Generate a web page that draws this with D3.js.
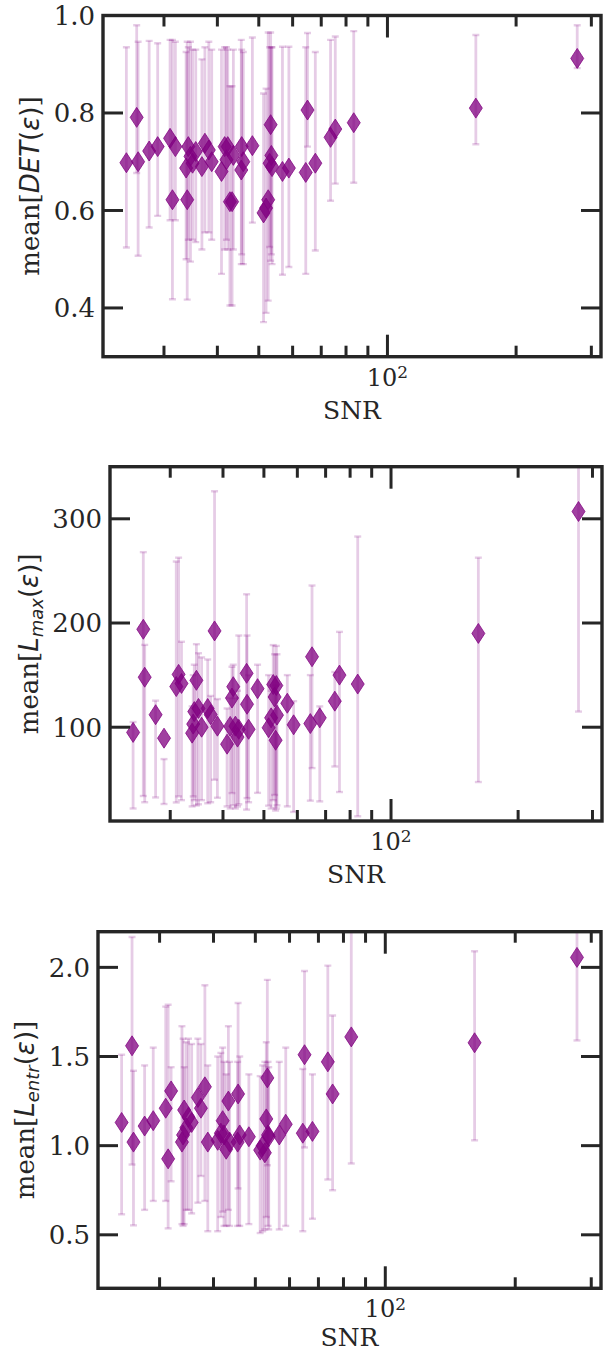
<!DOCTYPE html>
<html>
<head>
<meta charset="utf-8">
<script src="https://cdn.jsdelivr.net/npm/d3@7"></script>
<style>
  body { margin: 0; background: #fff; }
  svg text { fill: #262626; }
</style>
</head>
<body>
<div id="chart"></div>
<script>
// SNR of each event, shared by all three panels
var snr = [24.5, 25.9, 26.1, 27.7, 29.0, 31.0, 31.4, 31.9, 33.8, 34.0, 34.2, 34.6, 35.0, 35.6, 36.8, 37.4, 38.2, 38.8, 40.9, 41.6, 42.0, 42.3, 42.8, 43.3, 43.6, 45.5, 45.6, 46.0, 48.3, 51.3, 52.0, 52.6, 53.0, 53.3, 53.5, 53.7, 56.8, 58.8, 64.4, 65.0, 67.8, 73.6, 75.5, 83.4, 161, 278];

var detMean = [.698, .791, .700, .722, .731, .748, .622, .731, .687, .622, .731, .711, .697, .721, .690, .738, .724, .700, .680, .731, .704, .731, .618, .618, .713, .683, .731, .700, .733, .595, .605, .622, .697, .776, .713, .690, .680, .687, .678, .806, .697, .750, .767, .780, .810, .912];
var detLow = [.524, .677, .507, .565, .589, .580, .418, .580, .500, .417, .540, .495, .540, .535, .520, .555, .555, .540, .470, .520, .540, .520, .405, .405, .520, .490, .510, .490, .575, .371, .390, .415, .525, .497, .510, .490, .468, .484, .470, .731, .518, .620, .655, .657, .736, .892];
var detHigh = [.935, .980, .946, .948, .943, .950, .950, .946, .925, .946, .935, .946, .930, .930, .910, .935, .946, .930, .930, .935, .935, .930, .855, .855, .930, .950, .930, .925, .955, .840, .850, .965, .935, .965, .935, .935, .936, .936, .935, .964, .925, .950, .957, .968, .960, .980];

var lmaxMean = [95, 194, 148, 112, 89.5, 139, 150.7, 142, 94.3, 103, 115, 145, 118, 100, 118, 112, 192.4, 101, 83.7, 100.8, 128, 138.9, 101, 90.5, 98, 151.7, 122, 98, 137, 99.5, 109, 141, 129, 87.5, 140, 111.6, 123, 102.3, 103.5, 167.6, 109, 125, 150, 141.4, 190, 307];
var lmaxLow = [22, 34, 28, 32.6, 26.3, 27.8, 33.6, 30, 24, 33.6, 30, 24.9, 26, 30, 27, 28, 49.6, 32.3, 24, 22, 36.8, 25, 22, 24, 26, 20.9, 32, 28, 37, 24.7, 22, 30, 35, 20, 22, 25, 24, 18.7, 29.5, 60.8, 28.8, 62.3, 37.8, 14.5, 47.4, 115];
var lmaxHigh = [105, 268, 179, 125.5, 69.4, 259, 262.7, 182, 120, 150, 160, 179.7, 171, 167, 165, 130, 326.4, 127, 118, 128, 158, 160, 128, 135, 188, 227.6, 188, 150, 160, 150, 135, 178.8, 170, 140, 178, 170, 150, 125, 150, 236, 120, 153, 191.5, 283, 262.7, 400];

var lentrMean = [1.13, 1.56, 1.02, 1.11, 1.14, 1.21, 0.926, 1.307, 1.02, 1.06, 1.20, 1.10, 1.16, 1.13, 1.27, 1.21, 1.33, 1.02, 1.03, 1.07, 1.14, 1.06, 0.98, 1.25, 1.02, 1.02, 1.29, 1.06, 1.05, 0.975, 1.00, 0.96, 1.15, 1.38, 1.06, 1.05, 1.06, 1.12, 1.07, 1.51, 1.08, 1.47, 1.29, 1.61, 1.577, 2.056];
var lentrLow = [.615, .894, .553, .64, .69, .69, .536, .80, .56, .55, .56, .64, .64, .62, .68, .83, .69, .52, .52, .60, .63, .55, .55, .64, .55, .55, .76, .55, .56, .51, .52, .53, .60, .89, .55, .53, .53, .55, .52, .99, .59, .81, .75, .90, 1.03, 1.59];
var lentrHigh = [1.51, 2.17, 1.42, 1.45, 1.55, 1.78, 1.79, 1.44, 1.67, 1.60, 1.44, 1.58, 1.60, 1.57, 1.60, 1.57, 1.90, 1.45, 1.50, 1.52, 1.55, 1.47, 1.40, 1.67, 1.47, 1.47, 1.80, 1.50, 1.40, 1.39, 1.45, 1.47, 1.58, 1.93, 1.47, 1.44, 1.47, 1.55, 1.43, 1.98, 1.40, 2.01, 1.73, 2.5, 2.09, 2.4];

// tick values
var xMajorTicks = [100];
var xMinorTicks = [30, 40, 50, 60, 70, 80, 90, 200, 300];
var detTicks = [0.4, 0.6, 0.8, 1.0];
var lmaxTicks = [100, 200, 300];
var lentrTicks = [0.5, 1.0, 1.5, 2.0];

var width = 614, height = 1355;
var ink = "#262626";

var svg = d3.select("#chart")
    .append("svg")
    .attr("width", width)
    .attr("height", height);

var panels = [
    { id: "det", mean: detMean, low: detLow, high: detHigh, ticks: detTicks, domain: [0.3, 1.0],
      fmt: d3.format(".1f"), left: 103, right: 601, top: 15.5, bottom: 356.7, labelX: 39, snrY: 62, sub: null, main: "DET" },
    { id: "lmax", mean: lmaxMean, low: lmaxLow, high: lmaxHigh, ticks: lmaxTicks, domain: [10, 350],
      fmt: d3.format("d"), left: 110, right: 602, top: 466.7, bottom: 821, labelX: 38, snrY: 62, sub: "max", main: "L" },
    { id: "lentr", mean: lentrMean, low: lentrLow, high: lentrHigh, ticks: lentrTicks, domain: [0.2, 2.2],
      fmt: d3.format(".1f"), left: 98, right: 601, top: 931.7, bottom: 1288.3, labelX: 34, snrY: 58, sub: "entr", main: "L" }
];

panels.forEach(function(p) {
    var xScale = d3.scaleLog()
        .domain([21.6, 316])
        .range([p.left, p.right]);

    var yScale = d3.scaleLinear()
        .domain(p.domain)
        .range([p.bottom, p.top]);

    var points = snr.map(function(s, i) {
        return { snr: s, mean: p.mean[i], low: p.low[i], high: p.high[i] };
    });

    var g = svg.append("g").attr("class", "panel-" + p.id);

    g.append("clipPath")
        .attr("id", "clip-" + p.id)
        .append("rect")
        .attr("x", p.left)
        .attr("y", p.top)
        .attr("width", p.right - p.left)
        .attr("height", p.bottom - p.top);

    var plot = g.append("g").attr("clip-path", "url(#clip-" + p.id + ")");

    // error bars
    var bars = plot.selectAll(".err")
        .data(points)
        .enter().append("g")
        .attr("class", "err")
        .attr("stroke", "purple")
        .attr("stroke-opacity", 0.2);

    bars.append("line")
        .attr("x1", function(d) { return xScale(d.snr); })
        .attr("x2", function(d) { return xScale(d.snr); })
        .attr("y1", function(d) { return yScale(d.low); })
        .attr("y2", function(d) { return yScale(d.high); })
        .attr("stroke-width", 2.8);

    bars.selectAll(".cap")
        .data(function(d) { return [{ snr: d.snr, v: d.low }, { snr: d.snr, v: d.high }]; })
        .enter().append("line")
        .attr("class", "cap")
        .attr("x1", function(d) { return xScale(d.snr) - 3.5; })
        .attr("x2", function(d) { return xScale(d.snr) + 3.5; })
        .attr("y1", function(d) { return yScale(d.v); })
        .attr("y2", function(d) { return yScale(d.v); })
        .attr("stroke-width", 2.4);

    // thin diamond markers
    var hw = 6.5, hh = 10;
    plot.selectAll(".marker")
        .data(points)
        .enter().append("path")
        .attr("class", "marker")
        .attr("d", "M0," + (-hh) + "L" + hw + ",0L0," + hh + "L" + (-hw) + ",0Z")
        .attr("transform", function(d) {
            return "translate(" + xScale(d.snr) + "," + yScale(d.mean) + ")";
        })
        .attr("fill", "purple")
        .attr("fill-opacity", 0.75)
        .attr("stroke", "purple")
        .attr("stroke-opacity", 0.75)
        .attr("stroke-width", 1);

    // frame
    g.append("rect")
        .attr("x", p.left)
        .attr("y", p.top)
        .attr("width", p.right - p.left)
        .attr("height", p.bottom - p.top)
        .attr("fill", "none")
        .attr("stroke", ink)
        .attr("stroke-width", 3.4);

    // inward ticks on all four sides
    var ticks = g.append("g").attr("stroke", ink).attr("stroke-width", 3);

    xMajorTicks.concat(xMinorTicks).forEach(function(t) {
        var len = xMajorTicks.indexOf(t) >= 0 ? 22 : 11;
        var x = xScale(t);
        ticks.append("line").attr("x1", x).attr("x2", x).attr("y1", p.bottom).attr("y2", p.bottom - len);
        ticks.append("line").attr("x1", x).attr("x2", x).attr("y1", p.top).attr("y2", p.top + len);
    });

    p.ticks.forEach(function(t) {
        var y = yScale(t);
        ticks.append("line").attr("x1", p.left).attr("x2", p.left + 20).attr("y1", y).attr("y2", y);
        ticks.append("line").attr("x1", p.right).attr("x2", p.right - 20).attr("y1", y).attr("y2", y);
        g.append("text")
            .attr("x", p.left - 8)
            .attr("y", y)
            .attr("dy", "0.36em")
            .attr("text-anchor", "end")
            .style("font-family", "DejaVu Serif")
            .style("font-size", "26px")
            .text(p.fmt(t));
    });

    // 10^2 label
    var lab = g.append("text")
        .attr("x", xScale(100))
        .attr("y", p.bottom + 29)
        .attr("text-anchor", "middle")
        .style("font-family", "DejaVu Serif")
        .style("font-size", "24px");
    lab.append("tspan").text("10");
    lab.append("tspan").attr("dy", "-0.45em").style("font-size", "17px").text("2");

    g.append("text")
        .attr("x", (p.left + p.right) / 2)
        .attr("y", p.bottom + p.snrY)
        .attr("text-anchor", "middle")
        .style("font-family", "DejaVu Serif")
        .style("font-size", "25px")
        .text("SNR");

    // y label: mean[DET(ε)], mean[L_max(ε)], mean[L_entr(ε)]
    var cy = (p.top + p.bottom) / 2;
    var yl = g.append("text")
        .attr("transform", "translate(" + p.labelX + "," + cy + ") rotate(-90)")
        .attr("text-anchor", "middle")
        .style("font-family", "DejaVu Serif")
        .style("font-size", "26px");
    yl.append("tspan").text("mean[");
    yl.append("tspan")
        .style("font-family", "DejaVu Sans")
        .style("font-style", "italic")
        .text(p.main);
    if (p.sub) {
        yl.append("tspan")
            .attr("dy", "0.25em")
            .style("font-family", "DejaVu Sans")
            .style("font-style", "italic")
            .style("font-size", "18px")
            .text(p.sub);
        yl.append("tspan")
            .attr("dy", "-0.18em")
            .style("font-family", "DejaVu Sans")
            .text("(");
    } else {
        yl.append("tspan").style("font-family", "DejaVu Sans").text("(");
    }
    yl.append("tspan")
        .style("font-family", "DejaVu Sans")
        .style("font-style", "italic")
        .text("ε");
    yl.append("tspan").style("font-family", "DejaVu Sans").text(")");
    yl.append("tspan").text("]");
});
</script>
</body>
</html>
